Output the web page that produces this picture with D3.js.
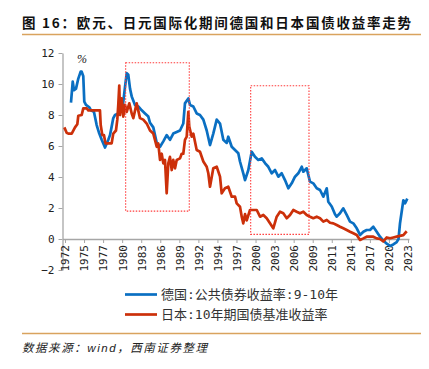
<!DOCTYPE html>
<html>
<head>
<meta charset="utf-8">
<script src="https://cdn.jsdelivr.net/npm/d3@7"></script>
<style>
  body { margin: 0; background: #fff; }
  svg { display: block; }
</style>
</head>
<body>
<div id="chart"></div>
<script>
// Germany: public bond yield 9-10y (decimal year, %)
var deDates = [1973.14, 1973.40, 1973.59, 1973.89, 1974.23, 1974.58, 1974.73, 1974.97, 1975.12, 1975.37,
  1975.86, 1976.12, 1976.56, 1976.96, 1977.35, 1977.71, 1978.20, 1978.69, 1978.94, 1979.19,
  1979.43, 1979.69, 1980.18, 1980.68, 1980.92, 1981.17, 1981.43, 1981.66, 1981.92, 1982.17,
  1982.66, 1983.15, 1983.66, 1984.15, 1984.64, 1984.89, 1985.38, 1985.89, 1986.38, 1986.87,
  1987.37, 1987.86, 1988.35, 1988.86, 1989.35, 1989.84, 1990.09, 1990.59, 1990.84, 1991.33,
  1991.83, 1992.32, 1992.82, 1993.32, 1993.81, 1994.30, 1994.81, 1995.30, 1995.79, 1996.30,
  1996.53, 1997.04, 1997.53, 1998.02, 1998.27, 1998.76, 1999.02, 1999.51, 2000.01, 2000.50,
  2000.99, 2001.50, 2001.99, 2002.48, 2002.99, 2003.48, 2003.97, 2004.47, 2004.96, 2005.46,
  2005.96, 2006.45, 2006.94, 2007.45, 2007.69, 2008.19, 2008.43, 2008.68, 2009.17, 2009.68,
  2010.17, 2010.66, 2011.17, 2011.40, 2011.91, 2012.40, 2012.65, 2013.14, 2013.63, 2014.14,
  2014.63, 2015.12, 2015.63, 2016.12, 2016.61, 2017.11, 2017.60, 2018.09, 2018.60, 2019.09,
  2019.58, 2020.09, 2020.58, 2021.07, 2021.57, 2021.84, 2022.06, 2022.56, 2022.81, 2023.15];
var deYield = [8.8, 10.15, 9.6, 9.7, 10.35, 10.8, 10.8, 10.5, 8.86, 8.65,
  8.5, 8.3, 8.2, 7.35, 6.8, 6.4, 5.9, 6.4, 6.7, 7.25,
  7.8, 8.0, 8.1, 8.3, 8.86, 9.8, 10.7, 10.6, 9.7, 9.2,
  8.65, 8.55, 8.3, 8.1, 7.9, 7.5, 7.2, 6.2, 5.95, 6.3,
  6.7, 6.4, 6.8, 6.9, 7.0, 7.45, 8.75, 9.07, 8.65, 8.55,
  8.1, 8.0, 7.7, 7.0, 6.06, 6.8, 7.7, 7.45, 6.4, 6.2,
  6.6, 5.95, 5.74, 5.53, 5.0, 4.24, 3.8, 4.45, 5.63, 5.3,
  5.1, 5.2, 4.9, 4.66, 4.24, 4.45, 4.02, 4.24, 3.8, 3.27,
  3.59, 4.02, 4.24, 4.66, 4.34, 4.56, 4.13, 3.7, 3.59, 3.27,
  3.16, 2.73, 3.27, 2.4, 2.1, 1.6, 1.44, 1.66, 1.98, 1.55,
  1.12, 1.01, 0.69, 0.26, 0.47, 0.58, 0.58, 0.79, 0.47, 0.15,
  -0.1, -0.3, -0.45, -0.35, -0.2, 0.0, 1.0, 2.5, 2.3, 2.6];

// Japan: 10y government bond benchmark yield
var jpDates = [1972.15, 1972.50, 1972.74, 1973.25, 1973.74, 1974.08, 1974.23, 1974.73, 1974.97, 1975.48,
  1975.72, 1977.45, 1977.56, 1977.80, 1978.05, 1978.27, 1979.19, 1979.43, 1979.83, 1980.03,
  1980.18, 1980.32, 1980.43, 1980.68, 1980.92, 1981.17, 1981.43, 1981.81, 1982.17, 1982.41,
  1982.91, 1983.40, 1983.89, 1984.40, 1984.89, 1985.38, 1985.63, 1985.89, 1986.12, 1986.38,
  1986.63, 1986.87, 1987.12, 1987.37, 1987.61, 1987.86, 1988.12, 1988.35, 1988.61, 1988.86,
  1989.35, 1989.60, 1989.84, 1990.09, 1990.35, 1990.59, 1990.73, 1991.09, 1991.33, 1991.83,
  1992.32, 1992.82, 1993.32, 1993.56, 1993.81, 1994.30, 1994.81, 1995.30, 1995.55, 1996.04,
  1996.53, 1997.04, 1997.53, 1997.78, 1998.27, 1998.53, 1998.76, 1999.02, 1999.27, 1999.76,
  2000.25, 2000.76, 2001.25, 2001.74, 2002.24, 2002.73, 2003.22, 2003.73, 2004.22, 2004.71,
  2005.22, 2005.71, 2006.20, 2006.70, 2007.19, 2007.69, 2008.19, 2008.68, 2009.17, 2009.68,
  2010.17, 2010.66, 2011.17, 2011.66, 2012.15, 2012.65, 2013.14, 2013.63, 2014.14, 2014.63,
  2015.12, 2015.63, 2016.12, 2016.61, 2017.11, 2017.60, 2018.09, 2018.60, 2019.09, 2019.58,
  2020.09, 2020.58, 2021.07, 2021.57, 2022.06, 2022.56, 2023.06];
var jpYield = [7.2, 6.85, 6.8, 6.8, 7.2, 7.4, 7.95, 8.0, 8.43, 8.43,
  8.3, 8.3, 7.35, 6.7, 6.7, 6.17, 6.17, 6.8, 7.0, 7.7,
  8.7, 9.9, 8.0, 9.07, 7.9, 8.65, 8.2, 8.75, 8.1, 7.8,
  8.75, 7.8, 7.7, 7.45, 7.0, 6.8, 6.4, 5.95, 6.17, 5.1,
  5.5, 4.88, 5.1, 2.95, 4.88, 5.3, 4.45, 5.1, 4.56, 5.1,
  5.2, 5.5, 5.5, 6.4, 6.6, 8.2, 7.25, 6.6, 6.8, 5.74,
  5.63, 5.0, 4.66, 4.24, 3.37, 4.56, 4.66, 4.02, 2.95, 3.27,
  3.37, 2.73, 2.73, 2.3, 2.08, 1.44, 1.01, 1.6, 1.2, 1.87,
  1.87, 1.87, 1.44, 1.55, 1.34, 1.01, 0.69, 1.44, 1.76, 1.66,
  1.34, 1.55, 1.87, 1.76, 1.66, 1.76, 1.55, 1.44, 1.34, 1.44,
  1.34, 1.12, 1.23, 1.05, 1.01, 0.9, 0.79, 0.69, 0.58, 0.47,
  0.37, 0.26, -0.06, 0.04, 0.15, 0.15, 0.15, 0.04, 0.0, -0.15,
  0.1, 0.05, 0.1, 0.15, 0.2, 0.25, 0.5];

// x tick labels: one every 34 months starting Apr 1972
var tickLabels = ['1972', '1975', '1977', '1980', '1983', '1986', '1989', '1992', '1994', '1997',
  '2000', '2003', '2006', '2009', '2011', '2014', '2017', '2020', '2023'];
var tickStart = 1972.25, tickStep = 34 / 12;
var yTicks = [-2, 0, 2, 4, 6, 8, 10, 12];

// highlighted periods [x0, x1, y0, y1]
var boxes = [[1981.27, 1990.73, 1.8, 11.37], [1999.86, 2008.53, 0.3, 9.89]];

var series = [
  {name: '德国:公共债券收益率:9-10年', color: '#0a6fc2', dates: deDates, values: deYield},
  {name: '日本:10年期国债基准收益率', color: '#cc300a', dates: jpDates, values: jpYield}
];

var W = 429, H = 369;
var svg = d3.select('#chart').append('svg')
  .attr('width', W).attr('height', H);

var x = d3.scaleLinear().domain([1971.88, 2023.4]).range([62.5, 409]),
    y = d3.scaleLinear().domain([-2, 12]).range([270, 53]);

// title
svg.append('text')
  .attr('x', 22).attr('y', 28)
  .attr('textLength', 389).attr('lengthAdjust', 'spacing')
  .style('font-family', '"Noto Sans CJK SC", "DejaVu Sans", sans-serif')
  .style('font-size', '13.5px').style('font-weight', 'bold').style('fill', '#111')
  .text('图 16：欧元、日元国际化期间德国和日本国债收益率走势');

svg.append('line').attr('x1', 22).attr('x2', 421).attr('y1', 34.5).attr('y2', 34.5)
  .attr('stroke', '#d9a35e').attr('stroke-width', 1.5);
svg.append('line').attr('x1', 22).attr('x2', 421).attr('y1', 333.5).attr('y2', 333.5)
  .attr('stroke', '#d9a35e').attr('stroke-width', 1.5);

// y axis
var yAxis = svg.append('g')
  .attr('transform', 'translate(' + x.range()[0] + ',0)')
  .call(d3.axisLeft(y).tickValues(yTicks).tickSize(4).tickSizeOuter(0).tickPadding(4));
yAxis.select('.domain').attr('stroke', '#a6a6a6').attr('stroke-width', 1.3);
yAxis.selectAll('.tick line').attr('stroke', '#a6a6a6');
yAxis.selectAll('.tick text')
  .style('font-family', '"DejaVu Sans Mono", monospace').style('font-size', '11px').style('fill', '#222');

// x axis at y = 0
var tickPos = tickLabels.map(function(d, i) { return tickStart + i * tickStep; });
var xAxis = svg.append('g')
  .attr('transform', 'translate(0,' + y(0) + ')')
  .call(d3.axisBottom(x).tickValues(tickPos).tickSize(4).tickSizeOuter(0)
    .tickFormat(function(d, i) { return tickLabels[i]; }));
xAxis.select('.domain').attr('stroke', '#a6a6a6').attr('stroke-width', 1.3);
xAxis.selectAll('.tick line').attr('stroke', '#a6a6a6');
xAxis.selectAll('.tick text')
  .attr('transform', 'rotate(-90)')
  .attr('x', -6).attr('y', 0).attr('dy', '0.35em')
  .style('text-anchor', 'end')
  .style('font-family', '"DejaVu Sans Mono", monospace').style('font-size', '11px').style('fill', '#222');

// unit
svg.append('text').attr('x', 82).attr('y', 63)
  .attr('text-anchor', 'middle')
  .style('font-family', '"Liberation Serif", serif').style('font-style', 'italic')
  .style('font-size', '12px').style('fill', '#222')
  .text('%');

// lines
var line = d3.line()
  .x(function(d) { return x(d[0]); })
  .y(function(d) { return y(d[1]); });

svg.selectAll('.series')
  .data(series)
  .enter().append('path')
  .attr('class', 'series')
  .attr('fill', 'none')
  .attr('stroke', function(d) { return d.color; })
  .attr('stroke-width', 2.7)
  .attr('stroke-linejoin', 'round')
  .attr('d', function(d) { return line(d3.zip(d.dates, d.values)); });

// highlight boxes
svg.selectAll('.box')
  .data(boxes)
  .enter().append('rect')
  .attr('class', 'box')
  .attr('x', function(d) { return x(d[0]); })
  .attr('y', function(d) { return y(d[3]); })
  .attr('width', function(d) { return x(d[1]) - x(d[0]); })
  .attr('height', function(d) { return y(d[2]) - y(d[3]); })
  .attr('fill', 'none')
  .attr('stroke', '#ff3b3b')
  .attr('stroke-width', 1.1)
  .attr('stroke-dasharray', '1.5,1.5');

// legend
var lg = svg.selectAll('.legend')
  .data(series)
  .enter().append('g')
  .attr('class', 'legend')
  .attr('transform', function(d, i) { return 'translate(125,' + (294.5 + i * 20) + ')'; });
lg.append('line').attr('x1', 0).attr('x2', 32)
  .attr('stroke', function(d) { return d.color; }).attr('stroke-width', 2.7);
lg.append('text').attr('x', 36).attr('y', 4.5)
  .style('font-family', '"DejaVu Sans Mono", "Noto Sans CJK SC", monospace')
  .style('font-size', '13px').style('fill', '#333')
  .text(function(d) { return d.name; });

// source
svg.append('text').attr('x', 22).attr('y', 352)
  .attr('textLength', 185).attr('lengthAdjust', 'spacing')
  .style('font-family', '"Liberation Sans", "Noto Sans CJK SC", sans-serif')
  .style('font-style', 'italic').style('font-size', '11.5px').style('fill', '#222')
  .text('数据来源：wind，西南证券整理');
</script>
</body>
</html>
